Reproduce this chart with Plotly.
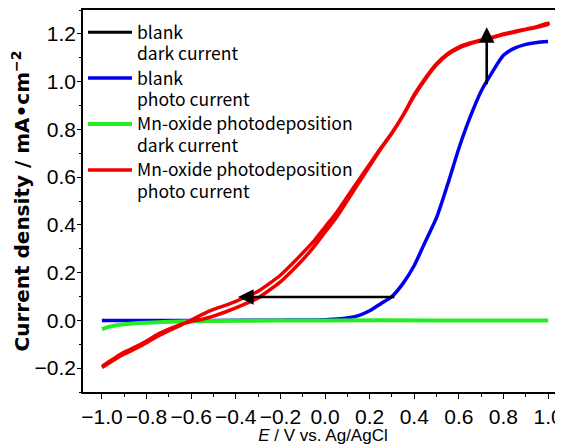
import plotly.graph_objects as go

# ---------------- data ----------------
series_lines = [
    ("blank", "dark current"),
    ("blank", "photo current"),
    ("Mn-oxide photodeposition", "dark current"),
    ("Mn-oxide photodeposition", "photo current"),
]
series_colors = ["#000000", "#0000ee", "#22ee22", "#ee0000"]

# blank, dark current (hidden under the green trace)
blank_dark_x = [-1.0, -0.5, 0.0, 0.5, 1.0]
blank_dark_y = [0.0, 0.0, 0.0, 0.0, 0.0]

# blank, photo current
blank_photo_x = [-1.0, -0.5, -0.2, 0.0, 0.1, 0.15, 0.2, 0.25, 0.3, 0.35, 0.4, 0.45, 0.5,
                 0.55, 0.6, 0.65, 0.7, 0.75, 0.8, 0.85, 0.9, 0.95, 1.0]
blank_photo_y = [0.0, 0.0, 0.001, 0.003, 0.01, 0.02, 0.04, 0.07, 0.1, 0.155, 0.23, 0.33, 0.43,
                 0.57, 0.72, 0.85, 0.96, 1.04, 1.11, 1.14, 1.156, 1.164, 1.168]

# Mn-oxide, dark current
mn_dark_x = [-1.0, -0.97, -0.94, -0.9, -0.85, -0.8, -0.7, -0.6, -0.4, -0.2, 0.0, 0.5, 1.0]
mn_dark_y = [-0.037, -0.027, -0.021, -0.016, -0.012, -0.01, -0.006, -0.004, -0.002, -0.001, 0.0, 0.0, 0.0]

# Mn-oxide, photo current (forward and reverse scan)
mn_photo_x = [-1.0, -0.95, -0.9, -0.85, -0.8, -0.75, -0.7, -0.65, -0.6, -0.55, -0.5, -0.45,
              -0.4, -0.35, -0.3, -0.25, -0.2, -0.15, -0.1, -0.05, 0.0, 0.05, 0.1, 0.15,
              0.2, 0.25, 0.3, 0.35, 0.4, 0.45, 0.5, 0.55, 0.6, 0.65, 0.7, 0.75, 0.8,
              0.85, 0.9, 0.95, 1.0]
mn_photo_fwd_y = [-0.197, -0.168, -0.141, -0.119, -0.094, -0.066, -0.043, -0.022, 0.001, 0.025,
                  0.046, 0.062, 0.08, 0.1, 0.122, 0.154, 0.189, 0.234, 0.282, 0.332, 0.391,
                  0.45, 0.518, 0.586, 0.654, 0.722, 0.786, 0.86, 0.945, 1.015, 1.075, 1.117,
                  1.145, 1.162, 1.175, 1.186, 1.2, 1.21, 1.22, 1.23, 1.245]
mn_photo_rev_y = [-0.193, -0.162, -0.133, -0.111, -0.086, -0.058, -0.037, -0.018, -0.005, 0.005,
                  0.018, 0.034, 0.052, 0.072, 0.094, 0.126, 0.161, 0.206, 0.254, 0.308, 0.369,
                  0.43, 0.502, 0.574, 0.646, 0.718, 0.784, 0.858, 0.94, 1.01, 1.07, 1.113,
                  1.14, 1.158, 1.172, 1.184, 1.197, 1.207, 1.218, 1.228, 1.24]

# arrows: (tail x, tail y, head x, head y)
arrow_left = (0.318, 0.098, -0.39, 0.098)
arrow_up = (0.725, 0.983, 0.725, 1.228)

x_ticks = [-1.0, -0.8, -0.6, -0.4, -0.2, 0.0, 0.2, 0.4, 0.6, 0.8, 1.0]
x_ticklabels = ["−1.0", "−0.8", "−0.6", "−0.4", "−0.2", "0.0", "0.2", "0.4", "0.6", "0.8", "1.0"]
y_ticks = [-0.2, 0.0, 0.2, 0.4, 0.6, 0.8, 1.0, 1.2]
y_ticklabels = ["−0.2", "0.0", "0.2", "0.4", "0.6", "0.8", "1.0", "1.2"]
x_range = [-1.085, 1.067]
y_range = [-0.30, 1.30]


def legend_name(lines):
    return "<br>".join('<span style="font-size:17.5px">%s</span>' % s for s in lines)


series_names = [legend_name(l) for l in series_lines]

# ---------------- figure ----------------
fig = go.Figure()
fig.add_trace(go.Scatter(x=blank_dark_x, y=blank_dark_y, mode="lines", name=series_names[0],
                         line=dict(color=series_colors[0], width=3)))
fig.add_trace(go.Scatter(x=blank_photo_x, y=blank_photo_y, mode="lines", name=series_names[1],
                         line=dict(color=series_colors[1], width=3.5, shape="spline", smoothing=0.6)))
fig.add_trace(go.Scatter(x=mn_dark_x, y=mn_dark_y, mode="lines", name=series_names[2],
                         line=dict(color=series_colors[2], width=4, shape="spline", smoothing=0.6)))
fig.add_trace(go.Scatter(x=mn_photo_x + mn_photo_x[::-1],
                         y=mn_photo_fwd_y + mn_photo_rev_y[::-1],
                         mode="lines", name=series_names[3],
                         line=dict(color=series_colors[3], width=3.5, shape="spline", smoothing=0.6)))

for (tx, ty, hx, hy) in (arrow_left, arrow_up):
    fig.add_annotation(x=hx, y=hy, ax=tx, ay=ty, xref="x", yref="y", axref="x", ayref="y",
                       showarrow=True, arrowhead=2, arrowsize=1.2, arrowwidth=2.6,
                       arrowcolor="black", standoff=0, startstandoff=0, text="")

tickfont = dict(family="Liberation Sans, Arial, sans-serif", size=21, color="black")
common = dict(showgrid=False, zeroline=False, linecolor="black", linewidth=1.5,
              tickcolor="black", tickwidth=1.3, automargin=False)

# page body has an 8px default margin, so the figure is 8px smaller than the window
fig.update_layout(
    width=555, height=437,
    margin=dict(l=75, r=0, t=2, b=53),
    paper_bgcolor="white", plot_bgcolor="white",
    showlegend=True,
    legend=dict(x=0.0, y=0.987, xanchor="left", yanchor="top", valign="top",
                itemwidth=44,
                bgcolor="rgba(0,0,0,0)", borderwidth=0, tracegroupgap=0,
                font=dict(family="Noto Sans CJK JP, sans-serif", size=16.5, color="black")),
    xaxis=dict(range=x_range, showline=True, mirror=True, ticks="outside", ticklen=5,
               tickvals=x_ticks, ticktext=x_ticklabels, tickfont=tickfont,
               minor=dict(dtick=0.1, tick0=0, ticks="outside", ticklen=3, tickcolor="black"),
               title=dict(text="<i>E</i> / V vs. Ag/AgCl", standoff=4,
                          font=dict(family="Liberation Sans, Arial, sans-serif", size=17, color="black")),
               **common),
    xaxis2=dict(range=x_range, overlaying="x", anchor="y", side="bottom", showline=False,
                ticks="inside", ticklen=5, tickvals=x_ticks, showticklabels=False,
                minor=dict(dtick=0.1, tick0=0, ticks="inside", ticklen=3, tickcolor="black"),
                **common),
    xaxis3=dict(range=x_range, overlaying="x", anchor="y", side="top", showline=False,
                ticks="inside", ticklen=6, tickvals=x_ticks, showticklabels=False,
                minor=dict(dtick=0.1, tick0=0, ticks="inside", ticklen=3, tickcolor="black"),
                **common),
    yaxis=dict(range=y_range, showline=True, mirror=False, ticks="outside", ticklen=4,
               tickvals=y_ticks, ticktext=y_ticklabels, tickfont=tickfont,
               ticklabelstandoff=-3,
               minor=dict(dtick=0.1, tick0=0, ticks="outside", ticklen=2, tickcolor="black"),
               title=dict(text="<b>Current density / mA•cm<sup>−2</sup></b>", standoff=5,
                          font=dict(family="DejaVu Sans, sans-serif", size=20, color="black")),
               **common),
    yaxis2=dict(range=y_range, overlaying="y", anchor="x", side="left", showline=False,
                ticks="inside", ticklen=5, tickvals=y_ticks, showticklabels=False,
                minor=dict(dtick=0.1, tick0=0, ticks="inside", ticklen=3, tickcolor="black"),
                **common),
    yaxis3=dict(range=y_range, overlaying="y", anchor="x", side="right", showline=False,
                ticks="inside", ticklen=5, tickvals=y_ticks, showticklabels=False,
                minor=dict(dtick=0.1, tick0=0, ticks="inside", ticklen=3, tickcolor="black"),
                **common),
)

fig.write_html("out.html")
